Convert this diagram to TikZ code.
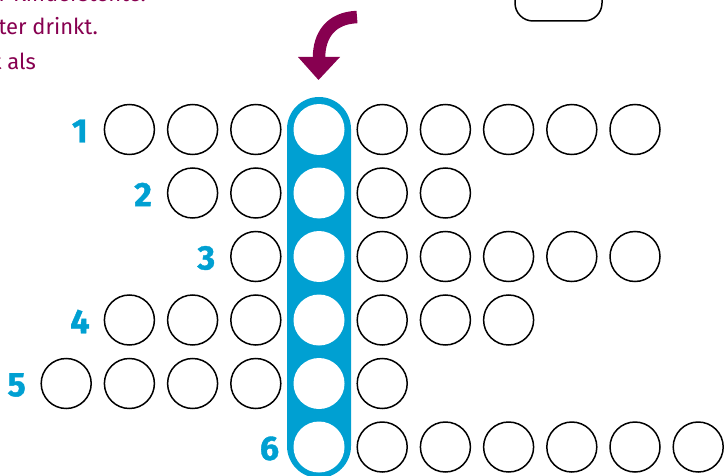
\documentclass[tikz,border=0pt]{standalone}
\usepackage{fontspec}
\setmainfont{Fira Sans}
\newfontfamily\numfont[BoldFeatures={FakeBold=1.2}]{Fira Sans}
\definecolor{plum}{RGB}{135,0,80}
\definecolor{sky}{RGB}{0,160,210}
\begin{document}
\begin{tikzpicture}[x=1pt,y=-1pt,
  hole/.style={circle,draw=black,line width=1.5pt,minimum size=50pt,inner sep=0pt},
  slot/.style={circle,fill=white,minimum size=51pt,inner sep=0pt},
  rownum/.style={text=sky,font=\fontsize{34}{34}\numfont\bfseries,inner sep=0pt},
  prose/.style={text=plum,font=\fontsize{22}{22}\selectfont,inner sep=0pt,anchor=base east}]
\useasboundingbox (0,0) rectangle (725,476);
% text fragments
\node[prose] (t1) at (146,2) {r Kinderstente.};
\node[prose] (t2) at (98,35) {ter drinkt.};
\node[prose] (t3) at (36,70) {t als};
% box top right
\node (lid) [draw=black,line width=1.5pt,rounded corners=18pt,minimum width=87pt,minimum height=60pt,inner sep=0pt] at (558.5,-9) {};
% arrow
\draw[plum,line width=12.5pt] (357,17) .. controls (331,18) and (319,35) .. (319,58);
\fill[plum] (298,57) -- (340,57) -- (318.5,80) -- cycle;
% band
\node (band) [fill=sky,rounded corners=32pt,minimum width=64pt,minimum height=381pt,inner sep=0pt] at (319,287.5) {};
% rows: row number / first column / last column
\foreach \r/\a/\b in {1/-3/5, 2/-2/2, 3/-1/5, 4/-3/3, 5/-4/1, 6/0/6} {
  \pgfmathsetmacro{\yy}{129.5+63.5*(\r-1)}
  \foreach \j in {\a,...,\b} {
    \pgfmathsetmacro{\xx}{319+63.2*\j}
    \ifnum\j=0
      \node[slot] (c-\r-\j) at (\xx,\yy) {};
    \else
      \node[hole] (c-\r-\j) at (\xx,\yy) {};
    \fi
  }
  \pgfmathsetmacro{\lx}{319+63.2*\a-49.5}
  \node[rownum] (n-\r) at (\lx,\yy+1.5) {\r};
}
\end{tikzpicture}
\end{document}
